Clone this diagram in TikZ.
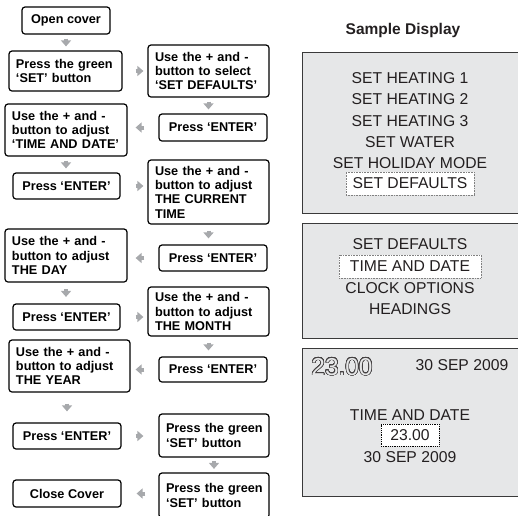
\documentclass[tikz,border=0pt]{standalone}
\usepackage{fontspec}
\setmainfont{Liberation Sans}
\usepackage{contour}
\usetikzlibrary{arrows.meta,calc}
\definecolor{panel}{HTML}{E6E7E8}
\definecolor{arrgray}{HTML}{A7A9AC}
\definecolor{panelline}{HTML}{3A3A3A}
\definecolor{disptext}{HTML}{231F20}
\contourlength{0.55pt}
\contournumber{32}
\newcommand{\boxline}[1]{\mbox{#1}}
\begin{document}
\begin{tikzpicture}[x=1pt,y=-1pt,
 fbox/.style={draw, line width=1.2pt, rounded corners=3pt, font=\fontsize{12.7}{14.3}\selectfont\bfseries, inner xsep=7pt, inner ysep=0pt, align=left},
 cbox/.style={fbox, align=center},
 arr/.style={draw=arrgray, line width=4pt, -{Triangle[length=6pt,width=10pt]}},
 dtext/.style={font=\fontsize{15.7}{16}\selectfont, text=disptext, inner sep=0pt},
 panelbox/.style={fill=panel, draw=panelline, line width=1.3pt, anchor=north west, inner sep=0pt},
 hl/.style={fill=white, draw=gray, densely dotted, line width=0.6pt},
]
\useasboundingbox (0,0) rectangle (518,515);

% flow boxes
\node[cbox, minimum width=88pt, minimum height=27pt] (A) at (66,20.5) {Open cover};
\node[fbox, text width=99pt, minimum height=40pt] (B) at (65.5,71) {\boxline{Press the green}\\\boxline{‘SET’ button}};
\node[fbox, text width=107pt, minimum height=52pt] (C) at (208.5,71) {\boxline{Use the + and -}\\\boxline{button to select}\\\boxline{‘SET DEFAULTS’}};
\node[cbox, minimum width=108pt, minimum height=27pt] (D) at (213,127.5) {Press ‘ENTER’};
\node[fbox, text width=108pt, minimum height=52pt] (E) at (66,130) {\boxline{Use the + and -}\\\boxline{button to adjust}\\\boxline{‘TIME AND DATE’}};
\node[cbox, minimum width=107pt, minimum height=26pt] (F) at (66.5,186) {Press ‘ENTER’};
\node[fbox, text width=107pt, minimum height=64pt] (G) at (208.5,192) {\boxline{Use the + and -}\\\boxline{button to adjust}\\\boxline{THE CURRENT}\\\boxline{TIME}};
\node[cbox, minimum width=108pt, minimum height=26pt] (H) at (213,258) {Press ‘ENTER’};
\node[fbox, text width=108pt, minimum height=53pt] (I) at (66,255.5) {\boxline{Use the + and -}\\\boxline{button to adjust}\\\boxline{THE DAY}};
\node[cbox, minimum width=107pt, minimum height=26pt] (J) at (66.5,317) {Press ‘ENTER’};
\node[fbox, text width=107pt, minimum height=49pt] (K) at (208.5,311.5) {\boxline{Use the + and -}\\\boxline{button to adjust}\\\boxline{THE MONTH}};
\node[cbox, minimum width=108pt, minimum height=25pt] (L) at (213,369.5) {Press ‘ENTER’};
\node[fbox, text width=107pt, minimum height=52pt] (M) at (69.5,366) {\boxline{Use the + and -}\\\boxline{button to adjust}\\\boxline{THE YEAR}};
\node[cbox, minimum width=108pt, minimum height=26pt] (N) at (67,436) {Press ‘ENTER’};
\node[fbox, text width=96pt, minimum height=43pt] (O) at (214,435.5) {\boxline{Press the green}\\\boxline{‘SET’ button}};
\node[fbox, text width=96pt, minimum height=45pt] (P) at (214,495.5) {\boxline{Press the green}\\\boxline{‘SET’ button}};
\node[cbox, minimum width=108pt, minimum height=27pt] (Q) at (67,493.5) {Close Cover};

% vertical arrows
\draw[arr, shorten <=4pt, shorten >=4pt] (A.south) -- (A.south |- B.north);
\draw[arr, shorten <=4pt, shorten >=4pt] (C.south) -- (C.south |- D.north);
\draw[arr, shorten <=4pt, shorten >=4pt] (E.south) -- (E.south |- F.north);
\draw[arr, shorten <=6pt, shorten >=6pt] (G.south) -- (G.south |- H.north);
\draw[arr, shorten <=6.5pt, shorten >=6.5pt] (I.south) -- (I.south |- J.north);
\draw[arr, shorten <=6pt, shorten >=6pt] (K.south) -- (K.south |- L.north);
\draw[arr, shorten <=11pt, shorten >=11pt] (N.north |- M.south) -- (N.north);
\draw[arr, shorten <=3.5pt, shorten >=3.5pt] (O.south) -- (O.south |- P.north);

% horizontal arrows
\draw[arr, shorten <=13pt, shorten >=4pt] (B.east) -- (B.east -| C.west);
\draw[arr, shorten <=14pt, shorten >=8pt] (D.west) -- (D.west -| E.east);
\draw[arr, shorten <=15pt, shorten >=4pt] (F.east) -- (F.east -| G.west);
\draw[arr, shorten <=14pt, shorten >=8pt] (H.west) -- (H.west -| I.east);
\draw[arr, shorten <=15pt, shorten >=4pt] (J.east) -- (J.east -| K.west);
\draw[arr, shorten <=14pt, shorten >=5pt] (L.west) -- (L.west -| M.east);
\draw[arr, shorten <=14pt, shorten >=15pt] (N.east) -- (N.east -| O.west);
\draw[arr, shorten <=13pt, shorten >=15pt] (P.west |- Q.east) -- (Q.east);

% sample display
\node[font=\fontsize{15.5}{16}\selectfont\bfseries, text=disptext, anchor=base, inner sep=0pt] (title) at (403,34) {Sample Display};

\node[panelbox, minimum width=230pt, minimum height=161pt] (p1) at (302,52) {};
\node[dtext] (s1) at (410,78) {SET HEATING 1};
\node[dtext] (s2) at (410,99) {SET HEATING 2};
\node[dtext] (s3) at (410,121) {SET HEATING 3};
\node[dtext] (s4) at (410,142) {SET WATER};
\node[dtext] (s5) at (410,163) {SET HOLIDAY MODE};
\node[dtext, hl, minimum width=128pt, minimum height=23pt] (s6) at (410,183.5) {SET DEFAULTS};

\node[panelbox, minimum width=230pt, minimum height=115pt] (p2) at (302,223) {};
\node[dtext] (t1) at (410,244) {SET DEFAULTS};
\node[dtext, hl, minimum width=142pt, minimum height=23pt] (t2) at (410,266.5) {TIME AND DATE};
\node[dtext] (t3) at (410,288) {CLOCK OPTIONS};
\node[dtext] (t4) at (410,309) {HEADINGS};

\node[panelbox, minimum width=230pt, minimum height=148pt] (p3) at (302,348) {};
\node[inner sep=0pt, text=panel, font=\fontsize{24.4}{25}\selectfont] (u1) at (342,367) {\contour{disptext!85}{23.00}};
\node[dtext] (u2) at (462,365) {30 SEP 2009};
\node[dtext] (u3) at (410,415) {TIME AND DATE};
\node[dtext, fill=white, draw=black, densely dotted, line width=0.8pt, minimum width=58pt, minimum height=22pt] (u4) at (410,435) {23.00};
\node[dtext] (u5) at (410,457) {30 SEP 2009};
\end{tikzpicture}
\end{document}
